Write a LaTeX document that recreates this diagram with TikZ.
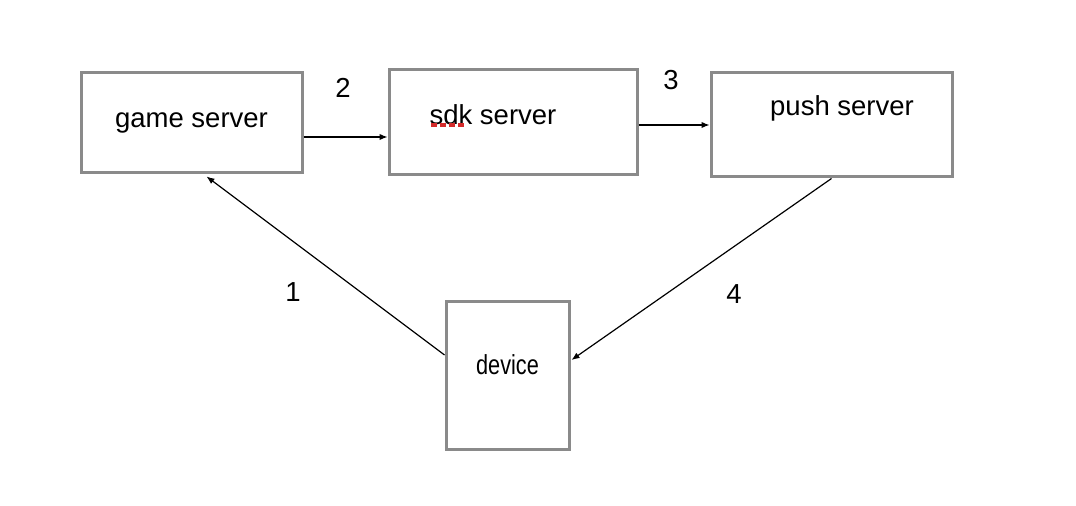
\documentclass[tikz,border=0pt]{standalone}
\usepackage{fontspec}
\setmainfont{Liberation Sans}
\usepackage{tikz}
\usetikzlibrary{arrows.meta,calc}
\definecolor{boxgray}{HTML}{8A8A8A}
\definecolor{spellred}{HTML}{D42A2A}
\tikzstyle{box}=[draw=boxgray,line width=1.5pt,rectangle,inner sep=0pt,font=\fontsize{13.75}{16}\selectfont]
\tikzstyle{num}=[inner sep=0pt,font=\fontsize{13.75}{16}\selectfont]
\tikzstyle{link}=[draw=black,line width=0.6pt,-{Latex[length=4pt,width=3.2pt]}]

\begin{document}
\begin{tikzpicture}[x=0.5pt,y=-0.5pt]
\useasboundingbox (0,0) rectangle (1076,506);
\node [box,minimum width=110.5pt,minimum height=50pt] (game) at (191.5,123) {game server};
\node [box,minimum width=124pt,minimum height=52.5pt,label={[num,name=sdktext,xshift=-10pt,yshift=3.75pt]center:sdk server}] (sdk) at (513,122.5) {};
\node [box,minimum width=120.5pt,minimum height=52pt,label={[num,name=pushtext,xshift=5.25pt,yshift=8.5pt]center:push server}] (push) at (831.5,125) {};
\node [box,minimum width=61.5pt,minimum height=74pt,label={[num,name=devicetext,yshift=5.5pt]center:\scalebox{0.79}[1]{device}}] (device) at (507.5,376) {};
% spell check mark under sdk
\draw [spellred,line width=2pt,dash pattern=on 3pt off 1.5pt] (431,125) -- (467,125);
\draw [link] ($(game.east)+(0,14)$) -- ($(sdk.west)+(0,14.5)$);
\draw [link] ($(sdk.east)+(0,2.5)$) -- (push.west);
\draw [link] (push.south) -- ($(device.east)+(1,-16)$);
\draw [link] ($(device.west)+(0,-21)$) -- ($(game.south)+(15,2)$);
\node [num] (n1) at (293,292) {1};
\node [num] (n2) at (343,88) {2};
\node [num] (n3) at (671,80) {3};
\node [num] (n4) at (734,294) {4};
\end{tikzpicture}
\end{document}
